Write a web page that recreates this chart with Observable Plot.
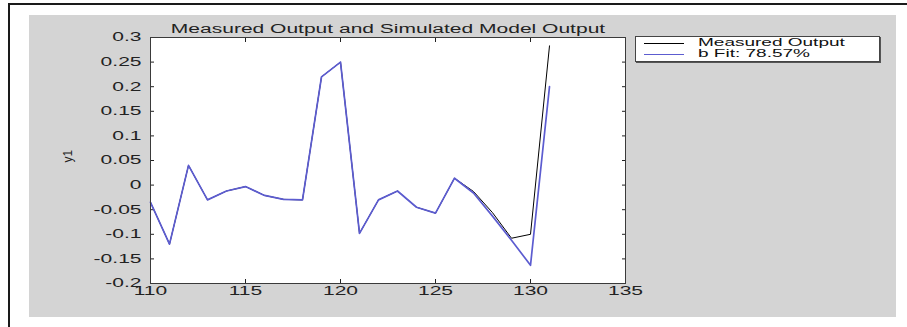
<!DOCTYPE html>
<html>
<head>
<meta charset="utf-8">
<script src="https://cdn.jsdelivr.net/npm/d3@7"></script>
<script src="https://cdn.jsdelivr.net/npm/@observablehq/plot@0.6"></script>
<style>
  html, body { margin: 0; padding: 0; background: #ffffff; }
  #wrap { position: relative; width: 907px; height: 327px; overflow: hidden; font-family: "Liberation Sans", Arial, sans-serif; }
  #frameTop { position: absolute; left: 8px; top: 3px; width: 899px; height: 2px; background: #1a1a1a; }
  #frameLeft { position: absolute; left: 8px; top: 3px; width: 2px; height: 324px; background: #1a1a1a; }
  #fig { position: absolute; left: 29px; top: 15px; width: 867px; height: 302px; background: #d4d4d4; }
  #chart { position: absolute; left: 0; top: 0; }
  #legend { position: absolute; left: 635px; top: 36px; width: 243px; height: 24px; background: #ffffff;
            border: 1px solid #444; box-shadow: 1px 1px 0 #555; }
  .lrow { position: absolute; left: 0; width: 243px; height: 10px; overflow: visible; }
  .lline { position: absolute; left: 8px; width: 40px; height: 0; top: 5px; }
  .ltext { position: absolute; left: 62px; top: 0px; font-size: 10px; line-height: 10px; height: 10px; color: #111;
           white-space: nowrap; transform: scaleX(1.9); transform-origin: left center; }
</style>
</head>
<body>
<div id="wrap">
  <div id="frameTop"></div>
  <div id="frameLeft"></div>
  <div id="fig"></div>
  <div id="chart"></div>
  <div id="legend"></div>
</div>
<script>
// ---- data ----
const time     = [110, 111, 112, 113, 114, 115, 116, 117, 118, 119, 120, 121, 122, 123, 124, 125, 126, 127, 128, 129, 130, 131];
const measured = [-0.035, -0.12, 0.04, -0.03, -0.012, -0.003, -0.021, -0.029, -0.03, 0.22, 0.25, -0.098, -0.03, -0.012, -0.045, -0.057, 0.014, -0.013, -0.056, -0.108, -0.1, 0.283];
const fitted   = [-0.035, -0.12, 0.04, -0.03, -0.012, -0.003, -0.021, -0.029, -0.03, 0.22, 0.25, -0.098, -0.03, -0.012, -0.045, -0.057, 0.014, -0.016, -0.063, -0.112, -0.163, 0.2];
const xTicks = [110, 115, 120, 125, 130, 135];
const xTickLabels = ["110", "115", "120", "125", "130", "135"];
const yTicks = [0.3, 0.25, 0.2, 0.15, 0.1, 0.05, 0, -0.05, -0.1, -0.15, -0.2];
const yTickLabels = ["0.3", "0.25", "0.2", "0.15", "0.1", "0.05", "0", "-0.05", "-0.1", "-0.15", "-0.2"];
const titleText = "Measured Output and Simulated Model Output";
const yLabel = "y1";
const seriesNames = ["Measured Output", "b Fit: 78.57%"];
const seriesColors = ["#000000", "#5c5cd0"];

const rows = time.map((t, i) => ({t, m: measured[i], f: fitted[i]}));
const fmtX = d => xTickLabels[xTicks.findIndex(v => Math.abs(v - d) < 1e-9)];
const fmtY = d => yTickLabels[yTicks.findIndex(v => Math.abs(v - d) < 1e-9)];

const chart = Plot.plot({
  width: 907,
  height: 327,
  marginLeft: 150,
  marginRight: 282,
  marginTop: 37,
  marginBottom: 44,
  style: {background: "transparent", fontFamily: "'Liberation Sans', Arial, sans-serif", fontSize: "12px", color: "#222"},
  x: {domain: [110, 135]},
  y: {domain: [-0.2, 0.3]},
  marks: [
    Plot.frame({fill: "#ffffff", stroke: "none"}),
    Plot.axisX({ticks: xTicks, tickSize: -4, tickPadding: 7, tickFormat: fmtX, label: null}),
    Plot.axisX({anchor: "top", ticks: xTicks, tickSize: -4, tickFormat: () => "", label: null}),
    Plot.axisY({ticks: yTicks, tickSize: -4, tickPadding: 13, tickFormat: fmtY, label: null}),
    Plot.axisY({anchor: "right", ticks: yTicks, tickSize: -4, tickFormat: () => "", label: null}),
    Plot.line(rows, {x: "t", y: "m", stroke: seriesColors[0], strokeWidth: 1}),
    Plot.line(rows, {x: "t", y: "f", stroke: seriesColors[1], strokeWidth: 1.7}),
    Plot.text([titleText], {frameAnchor: "top", lineAnchor: "bottom", dy: -5, fill: "#222", fontSize: 12}),
    Plot.text([yLabel], {frameAnchor: "left", rotate: -90, dx: -82, dy: 2, lineAnchor: "middle", fill: "#222", fontSize: 12}),
    Plot.frame({stroke: "#3a3a3a", strokeWidth: 1})
  ]
});
document.getElementById("chart").appendChild(chart);

// MATLAB-like wide lettering: stretch horizontal text
chart.querySelectorAll("text").forEach(el => {
  const txt = el.textContent;
  if (!txt || txt === yLabel) return;
  const w = el.getComputedTextLength();
  if (w > 0) {
    el.setAttribute("textLength", (w * 1.75).toFixed(1));
    el.setAttribute("lengthAdjust", "spacingAndGlyphs");
  }
});

// legend
const legend = document.getElementById("legend");
seriesNames.forEach((name, i) => {
  const row = document.createElement("div");
  row.className = "lrow";
  row.style.top = (1 + i * 11) + "px";
  const line = document.createElement("div");
  line.className = "lline";
  line.style.borderTop = "1px solid " + seriesColors[i];
  const text = document.createElement("div");
  text.className = "ltext";
  text.textContent = name;
  row.appendChild(line);
  row.appendChild(text);
  legend.appendChild(row);
});
</script>
</body>
</html>
